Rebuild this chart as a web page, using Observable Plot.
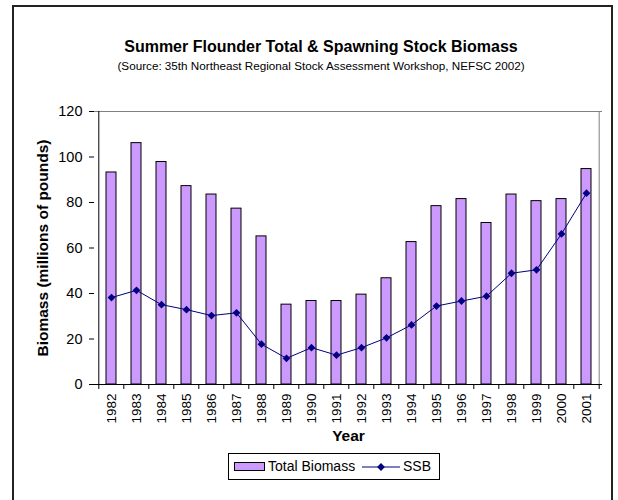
<!DOCTYPE html>
<html>
<head>
<meta charset="utf-8">
<script src="https://cdn.jsdelivr.net/npm/d3@7"></script>
<script src="https://cdn.jsdelivr.net/npm/@observablehq/plot@0.6"></script>
<style>
  body { margin: 0; background: #fff; font-family: "Liberation Sans", Arial, sans-serif; color: #000; }
  #page { position: relative; width: 618px; height: 500px; overflow: hidden; background: #fff; }
  #frame { position: absolute; left: 12px; top: 5px; width: 601px; height: 540px; border: 2px solid #222; box-sizing: border-box; }
  .ttl { position: absolute; left: 0; width: 642px; text-align: center; white-space: nowrap; }
  #title { top: 39px; font-size: 16px; line-height: 16px; font-weight: bold; }
  #subtitle { top: 60px; font-size: 11.7px; line-height: 11.7px; }
  #chart { position: absolute; left: 0; top: 80px; }
  #legend { position: absolute; left: 228px; top: 453px; width: 212px; height: 27px; border: 1px solid #000; box-sizing: border-box; font-size: 14px; }
  #legend .item { position: absolute; top: 0; height: 25px; line-height: 25px; white-space: nowrap; }
  #legend svg { vertical-align: middle; }
</style>
</head>
<body>
<div id="page">
  <div id="frame"></div>
  <div id="title" class="ttl">Summer Flounder Total &amp; Spawning Stock Biomass</div>
  <div id="subtitle" class="ttl">(Source: 35th Northeast Regional Stock Assessment Workshop, NEFSC 2002)</div>
  <div id="chart"></div>
  <div id="legend"></div>
</div>
<script>
const years = ["1982","1983","1984","1985","1986","1987","1988","1989","1990","1991",
               "1992","1993","1994","1995","1996","1997","1998","1999","2000","2001"];
const totalBiomass = [93.2,106.1,97.8,87.2,83.5,77.3,65.1,35.1,36.7,36.7,
                      39.5,46.7,62.6,78.4,81.5,71.0,83.5,80.6,81.5,94.7];
const ssb = [38.2,41.4,35.1,32.9,30.3,31.5,17.7,11.5,16.2,12.9,
             16.2,20.5,26.2,34.5,36.7,38.8,48.9,50.4,66.2,84.1];
const yTicks = [0,20,40,60,80,100,120];
const seriesNames = ["Total Biomass","SSB"];
const xTitle = "Year";
const yTitle = "Biomass (millions of pounds)";

const barFill = "#cc99ff";
const lineColor = "#000080";

const data = years.map((y, i) => ({year: y, total: totalBiomass[i], ssb: ssb[i]}));

const W = 618, H = 370, mL = 94, mR = 16, mT = 31, mB = 66;
const step = (W - mL - mR) / years.length;

const diamond = {
  draw(ctx, size) {
    const s = Math.sqrt(size / 2);
    ctx.moveTo(0, -s); ctx.lineTo(s, 0); ctx.lineTo(0, s); ctx.lineTo(-s, 0); ctx.closePath();
  }
};

const chart = Plot.plot({
  width: W, height: H,
  marginLeft: mL, marginRight: mR, marginTop: mT, marginBottom: mB,
  style: {fontFamily: '"Liberation Sans", Arial, sans-serif', color: "#000", background: "transparent", overflow: "visible"},
  x: {type: "band", domain: years, paddingInner: 0.6, paddingOuter: 0.3},
  y: {domain: [0, 120]},
  marks: [
    Plot.ruleY([yTicks[yTicks.length - 1]], {stroke: "#808080", strokeWidth: 1}),
    Plot.ruleX([years[years.length - 1]], {dx: step / 2, stroke: "#808080", strokeWidth: 1}),
    Plot.barY(data, {x: "year", y: "total", fill: barFill, stroke: "#000", strokeWidth: 1}),
    Plot.line(data, {x: "year", y: "ssb", stroke: lineColor, strokeWidth: 1}),
    Plot.dot(data, {x: "year", y: "ssb", symbol: diamond, r: 3.1, fill: lineColor, stroke: "none"}),
    Plot.ruleY([0], {stroke: "#000", strokeWidth: 1}),
    Plot.ruleX([years[0]], {dx: -step / 2, stroke: "#000", strokeWidth: 1}),
    Plot.ruleX(years, {dx: -step / 2, y1: 0, y2: 0, insetBottom: -5, stroke: "#000"}),
    Plot.ruleX([years[years.length - 1]], {dx: step / 2, y1: 0, y2: 0, insetBottom: -5, stroke: "#000"}),
    Plot.axisY({ticks: yTicks, tickSize: 5, tickPadding: 7, fontSize: 14.5, label: null, stroke: "#000"}),
    Plot.axisX({tickSize: 0, tickPadding: 9, tickRotate: -90, fontSize: 13.5, label: null}),
    Plot.text([xTitle], {frameAnchor: "bottom", dy: 56, fontWeight: "bold", fontSize: 15.5}),
    Plot.text([yTitle], {frameAnchor: "left", dx: -51, rotate: -90, textAnchor: "middle", fontWeight: "bold", fontSize: 15.5})
  ]
});
document.getElementById("chart").appendChild(chart);

// Legend
const legend = document.getElementById("legend");
legend.innerHTML =
  `<div class="item" style="left:5px"><svg width="31" height="12" style="margin-right:3px"><rect x="0.5" y="1.5" width="30" height="8" fill="${barFill}" stroke="#000"/></svg>${seriesNames[0]}</div>` +
  `<div class="item" style="left:133px"><svg width="38" height="12" style="margin-right:3px"><line x1="0" x2="38" y1="6" y2="6" stroke="${lineColor}"/><path d="M19,2.1L22.9,6L19,9.9L15.1,6Z" fill="${lineColor}"/></svg>${seriesNames[1]}</div>`;
</script>
</body>
</html>
